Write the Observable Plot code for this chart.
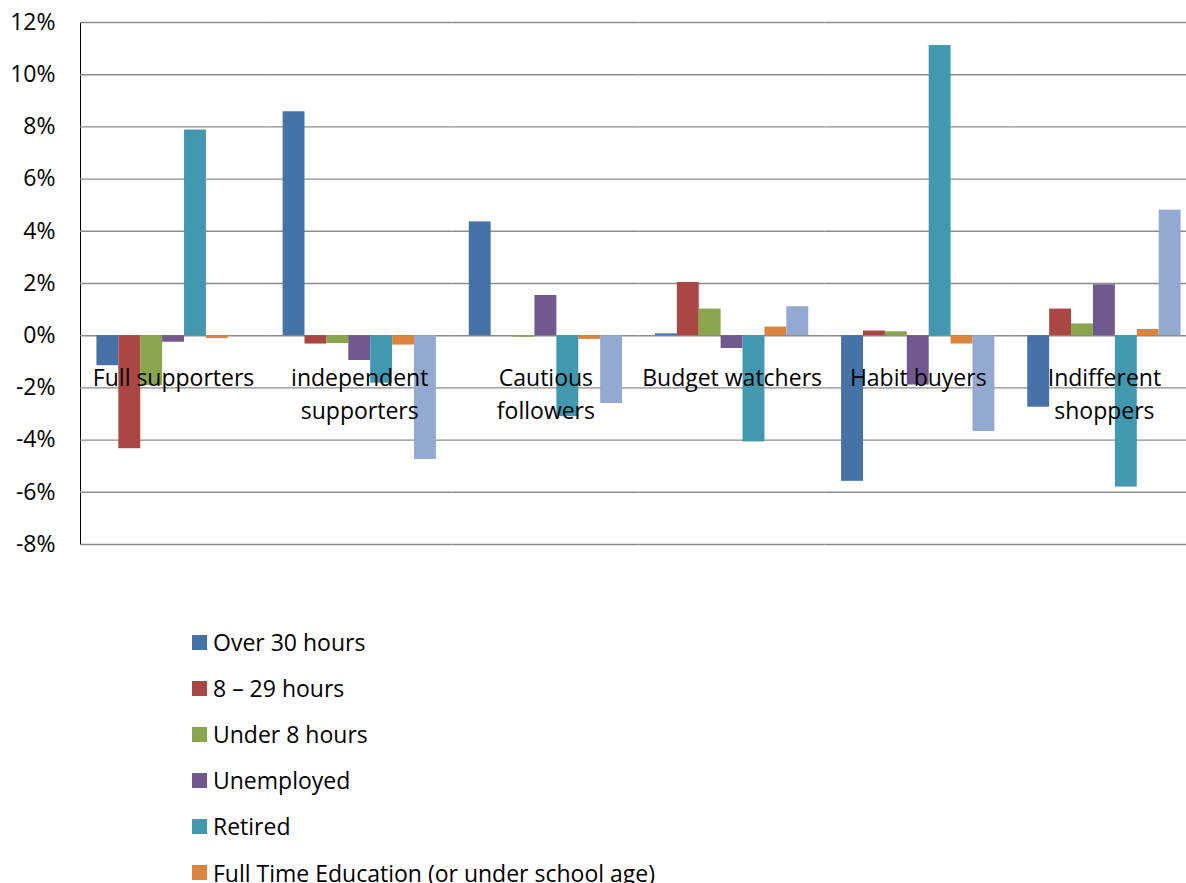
<!DOCTYPE html>
<html>
<head>
<meta charset="utf-8">
<script src="https://cdn.jsdelivr.net/npm/d3@7"></script>
<script src="https://cdn.jsdelivr.net/npm/@observablehq/plot@0.6"></script>
<style>
  html, body { margin: 0; padding: 0; background: #fff; overflow: hidden; }
  #chart svg { display: block; max-width: none !important; }
  #legend { margin-top: 19px; padding-left: 192px; font-family: "Open Sans", sans-serif; font-size: 23px; color: #000; }
  #legend .item { height: 46.1px; display: flex; align-items: center; white-space: nowrap; }
  #legend .swatch { width: 15px; height: 15px; margin-right: 6px; flex: none; }
</style>
</head>
<body>
<div id="chart"></div>
<div id="legend"></div>
<script>
// Shopper segments along the category axis
const categories = ["Full supporters", "independent supporters", "Cautious followers", "Budget watchers", "Habit buyers", "Indifferent shoppers"];
const categoryLabels = ["Full supporters", "independent\nsupporters", "Cautious\nfollowers", "Budget watchers", "Habit buyers", "Indifferent\nshoppers"];

// Working-status groups
const series = ["Over 30 hours", "8 – 29 hours", "Under 8 hours", "Unemployed", "Retired", "Full Time Education (or under school age)", "Other"];
const colors = ["#4572A7", "#AA4643", "#89A54E", "#71588F", "#4198AF", "#DB843D", "#93A9CF"];

// Difference from average, in percentage points, one value per segment
const over30Hours      = [-1.15,  8.58,  4.36,  0.07, -5.58, -2.74];
const hours8to29       = [-4.33, -0.32,  0.00,  2.04,  0.18,  1.02];
const under8Hours      = [-1.91, -0.30, -0.06,  1.02,  0.15,  0.45];
const unemployed       = [-0.25, -0.95,  1.54, -0.49, -1.89,  1.95];
const retired          = [ 7.88, -1.82, -3.10, -4.07, 11.12, -5.80];
const fullTimeEducation= [-0.11, -0.36, -0.14,  0.33, -0.32,  0.24];
const other            = [ 0.00, -4.74, -2.60,  1.11, -3.67,  4.81];

const yTicks = [-8, -6, -4, -2, 0, 2, 4, 6, 8, 10, 12];

const seriesValues = [over30Hours, hours8to29, under8Hours, unemployed, retired, fullTimeEducation, other];
const rows = categories.flatMap((category, i) =>
  series.map((s, j) => ({category, series: s, value: seriesValues[j][i]}))
);
const labelRows = categories.map((category, i) => ({category, label: categoryLabels[i]}));

const chart = Plot.plot({
  width: 1197,
  height: 600,
  marginLeft: 80,
  marginRight: 0,
  marginTop: 22,
  marginBottom: 56,
  style: {fontFamily: "Open Sans, sans-serif", fontSize: "23px", color: "#000", background: "#fff", maxWidth: "none"},
  fx: {domain: categories, padding: 0, round: false, axis: null},
  x: {domain: series, paddingInner: 0, paddingOuter: 0.75, round: false, axis: null},
  y: {domain: [-8, 12], ticks: yTicks, tickFormat: d => `${d}%`, tickSize: 0, tickPadding: 25, label: null, line: true},
  color: {domain: series, range: colors},
  marks: [
    Plot.gridY(yTicks, {stroke: "#8c8c8c", strokeOpacity: 1, strokeWidth: 1.4}),
    Plot.barY(rows, {fx: "category", x: "series", y: "value", fill: "series"}),
    Plot.text(labelRows, {
      fx: "category",
      y: () => 0,
      text: "label",
      lineAnchor: "top",
      lineHeight: 1.43,
      dy: 27,
      fontSize: 23,
      fill: "#000"
    })
  ]
});
document.getElementById("chart").append(chart);

// Legend, one row per group
const legend = d3.select("#legend");
series.forEach((s, i) => {
  const item = legend.append("div").attr("class", "item");
  item.append("span").attr("class", "swatch").style("background", colors[i]);
  item.append("span").text(s);
});
</script>
</body>
</html>
